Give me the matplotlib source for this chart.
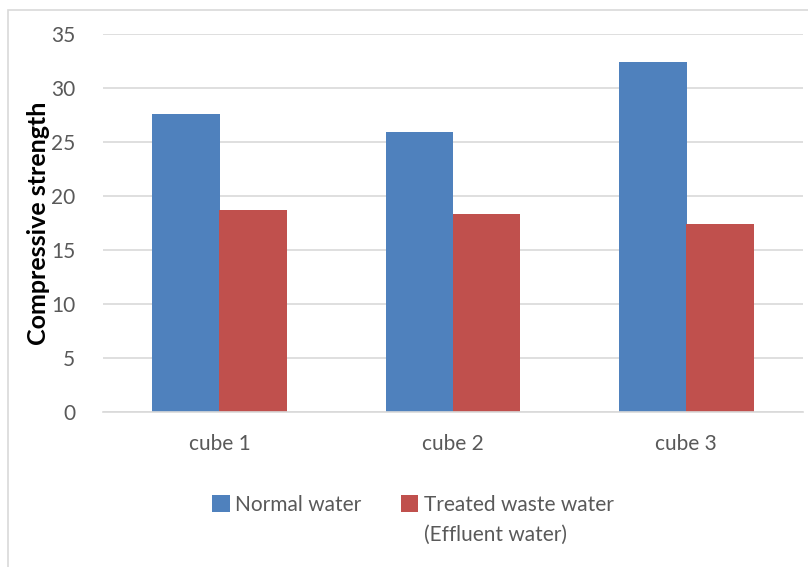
import matplotlib.pyplot as plt
import numpy as np
from matplotlib.patches import Rectangle

categories = ['cube 1', 'cube 2', 'cube 3']
normal_water = [27.6, 25.9, 32.4]
treated_water = [18.7, 18.3, 17.4]
series_names = ['Normal water', 'Treated waste water']
second_line = '(Effluent water)'
y_ticks = [0, 5, 10, 15, 20, 25, 30, 35]

plt.rcParams['font.family'] = ['Lato', 'DejaVu Sans']
grey = '#595959'

fig = plt.figure(figsize=(8.08, 5.67), dpi=100)
# outer chart border
fig.patches.append(Rectangle((8 / 808, -0.01), 1.0, 1 - 10 / 567 + 0.01, transform=fig.transFigure,
                             fill=False, edgecolor='#d9d9d9', linewidth=1.2))

ax = fig.add_axes([103 / 808, 1 - 412 / 567, 700 / 808, 378 / 567])
x = np.arange(len(categories))
w = 0.29
ax.bar(x - 0.143, normal_water, w, color='#4f81bd', label=series_names[0], zorder=3)
ax.bar(x + 0.143, treated_water, w, color='#c0504d', label=series_names[1], zorder=3)

ax.set_ylim(0, 35)
ax.set_xlim(-0.5, 2.5)
ax.set_yticks(y_ticks)
ax.yaxis.grid(True, color='#d9d9d9', linewidth=1.2, zorder=0)
ax.set_axisbelow(True)
for s in ['top', 'right', 'left']:
    ax.spines[s].set_visible(False)
ax.spines['bottom'].set_color('#d9d9d9')
ax.spines['bottom'].set_linewidth(1.2)
ax.spines['bottom'].set_zorder(4)
ax.set_xticks(x)
ax.set_xticklabels(categories)
ax.tick_params(axis='both', length=0, labelsize=15, colors=grey)
ax.tick_params(axis='y', pad=20)
ax.tick_params(axis='x', pad=16)
ax.set_ylabel('Compressive strength', fontsize=18, fontweight='bold', color='black', labelpad=1)

leg = fig.legend(loc='center left', bbox_to_anchor=(212 / 808, 1 - 505 / 567), ncol=2, frameon=False,
                 fontsize=15, labelcolor=grey, handlelength=0.85, handleheight=0.85,
                 handletextpad=0.25, columnspacing=1.9, borderpad=0, borderaxespad=0)

fig.canvas.draw()
t = leg.get_texts()[1]
bb = t.get_window_extent()
x0, y0 = fig.transFigure.inverted().transform((bb.x0, bb.y0))
fig.text(x0, y0 - 30 / 567, second_line, fontsize=15, color=grey, ha='left', va='bottom')

fig.savefig('out.png', dpi=100)
